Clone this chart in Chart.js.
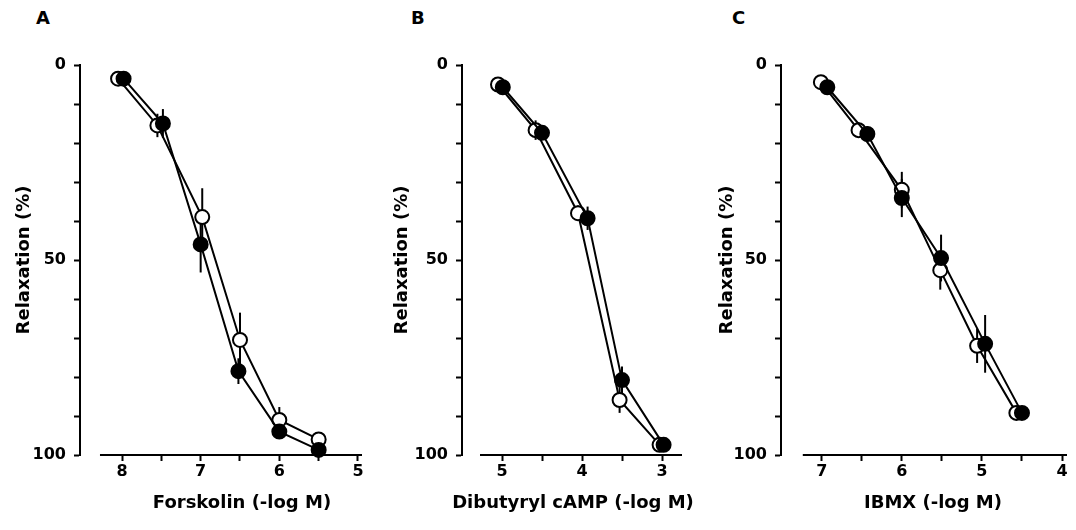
<!DOCTYPE html>
<html>
<head>
<meta charset="utf-8">
<script src="https://cdn.jsdelivr.net/npm/chart.js@4.4.1/dist/chart.umd.min.js"></script>
<style>
  html, body { margin: 0; padding: 0; background: #fff; overflow: hidden; }
  body { width: 1076px; height: 530px; position: relative; }
  canvas { position: absolute; top: 0; }
  .panel-label { position: absolute; top: 9px; font: bold 18px "DejaVu Sans"; line-height: 1; color: #000; }
</style>
</head>
<body>
<div class="panel-label" style="left:36px">A</div>
<div class="panel-label" style="left:411px">B</div>
<div class="panel-label" style="left:732px">C</div>
<canvas id="chartA" width="380" height="530" style="left:0"></canvas>
<canvas id="chartB" width="356" height="530" style="left:360px"></canvas>
<canvas id="chartC" width="360" height="530" style="left:716px"></canvas>
<script>
// y axis (Relaxation %), labelled ticks
const relaxLabels = [0, 50, 100];

// A - Forskolin (-log M)
const forskolinLabels = [8, 7, 6, 5];
const forskolinOpenX = [8.05, 7.55, 6.98, 6.5, 6.0, 5.5];
const forskolinOpen = [3.5, 15.5, 39, 70.5, 91, 96];
const forskolinOpenSem = [0.5, 3, 7.4, 7, 3.3, 1];
const forskolinFilledX = [7.98, 7.48, 7.0, 6.52, 6.0, 5.5];
const forskolinFilled = [3.5, 15, 46, 78.5, 94, 98.7];
const forskolinFilledSem = [0.5, 3.7, 7.2, 3.3, 1.5, 1];

// B - Dibutyryl cAMP (-log M)
const dbcampLabels = [5, 4, 3];
const dbcampOpenX = [5.05, 4.58, 4.05, 3.53, 3.03];
const dbcampOpen = [5, 16.7, 38, 85.9, 97.4];
const dbcampOpenSem = [1, 2.5, 2, 3.3, 0.5];
const dbcampFilledX = [4.99, 4.5, 3.93, 3.5, 2.98];
const dbcampFilled = [5.7, 17.4, 39.3, 80.8, 97.4];
const dbcampFilledSem = [1, 1, 3, 3.5, 0.5];

// C - IBMX (-log M)
const ibmxLabels = [7, 6, 5, 4];
const ibmxOpenX = [7.01, 6.54, 6.0, 5.52, 5.06, 4.57];
const ibmxOpen = [4.4, 16.7, 32, 52.6, 72, 89.2];
const ibmxOpenSem = [0.5, 2, 4.6, 5, 4.4, 1];
const ibmxFilledX = [6.93, 6.43, 6.0, 5.51, 4.96, 4.5];
const ibmxFilled = [5.7, 17.7, 34.1, 49.5, 71.5, 89.2];
const ibmxFilledSem = [1, 2, 4.9, 6, 7.4, 1];

Chart.defaults.font.family = '"DejaVu Sans"';
Chart.defaults.color = '#000';

// vertical SEM bars, drawn under the circles
const errorBars = {
  id: 'errorBars',
  beforeDatasetsDraw(chart) {
    const ctx = chart.ctx;
    const xs = chart.scales.x, ys = chart.scales.y;
    ctx.save();
    ctx.strokeStyle = '#000';
    ctx.lineWidth = 2;
    chart.data.datasets.forEach(ds => {
      ds.data.forEach((p, i) => {
        const err = ds.sem[i];
        if (!err) return;
        const px = xs.getPixelForValue(p.x);
        ctx.beginPath();
        ctx.moveTo(px, ys.getPixelForValue(p.y - err));
        ctx.lineTo(px, ys.getPixelForValue(p.y + err));
        ctx.stroke();
      });
    });
    ctx.restore();
  }
};

// x axis line (detached from the y axis) and its caption
const xAxisLine = {
  id: 'xAxisLine',
  afterDraw(chart, args, opts) {
    const ctx = chart.ctx;
    const xs = chart.scales.x;
    const yb = chart.chartArea.bottom;
    ctx.save();
    ctx.strokeStyle = '#000';
    ctx.lineWidth = 2;
    ctx.beginPath();
    ctx.moveTo(xs.getPixelForValue(opts.from), yb);
    ctx.lineTo(xs.getPixelForValue(opts.to), yb);
    ctx.stroke();
    // caption is wider than the plot, so draw it here instead of scale title
    ctx.fillStyle = '#000';
    ctx.font = 'bold 18px "DejaVu Sans"';
    ctx.textAlign = 'center';
    ctx.textBaseline = 'middle';
    ctx.fillText(opts.caption, opts.captionX, 503);
    ctx.restore();
  }
};

function toPoints(xs, ys) {
  return xs.map((x, i) => ({ x: x, y: ys[i] }));
}

function makePanel(id, p) {
  new Chart(document.getElementById(id), {
    type: 'scatter',
    data: {
      datasets: [
        {
          data: toPoints(p.filledX, p.filled),
          sem: p.filledSem,
          showLine: true,
          borderColor: '#000',
          borderWidth: 2,
          pointBackgroundColor: '#000',
          pointBorderColor: '#000',
          pointBorderWidth: 2,
          pointRadius: 7,
          clip: false,
          order: 0
        },
        {
          data: toPoints(p.openX, p.open),
          sem: p.openSem,
          showLine: true,
          borderColor: '#000',
          borderWidth: 2,
          pointBackgroundColor: '#fff',
          pointBorderColor: '#000',
          pointBorderWidth: 2,
          pointRadius: 7,
          clip: false,
          order: 1
        }
      ]
    },
    options: {
      responsive: false,
      animation: false,
      layout: { padding: { top: 65, right: p.padRight, bottom: 0, left: 0 } },
      plugins: {
        legend: { display: false },
        tooltip: { enabled: false },
        xAxisLine: { from: p.axisFrom, to: p.axisTo, caption: p.xTitle, captionX: p.captionX }
      },
      scales: {
        x: {
          type: 'linear',
          reverse: true,
          min: p.xMin,
          max: p.xMax,
          afterBuildTicks: s => {
            s.ticks = s.ticks.filter(t =>
              Math.abs(t.value * 2 - Math.round(t.value * 2)) < 1e-6 &&
              t.value <= p.axisFrom + 1e-6 && t.value >= p.axisTo - 1e-6);
          },
          afterFit: s => { s.height = 75; },
          ticks: {
            stepSize: 0.5,
            includeBounds: false,
            autoSkip: false,
            maxRotation: 0,
            padding: 1,
            color: '#000',
            font: { size: 16, weight: 'bold' },
            callback: v => p.xLabels.includes(v) ? String(v) : ''
          },
          grid: {
            drawOnChartArea: false,
            drawTicks: true,
            tickLength: 6,
            tickWidth: 2,
            tickColor: '#000'
          },
          border: { display: false }
        },
        y: {
          type: 'linear',
          reverse: true,
          min: 0,
          max: 100,
          afterFit: s => { s.width = p.yWidth; },
          ticks: {
            stepSize: 10,
            autoSkip: false,
            padding: 8,
            color: '#000',
            font: { size: 16, weight: 'bold' },
            callback: v => relaxLabels.includes(v) ? String(v) : ''
          },
          grid: {
            drawOnChartArea: false,
            drawTicks: true,
            tickLength: 6,
            tickWidth: 2,
            tickColor: '#000'
          },
          border: { display: true, color: '#000', width: 2 },
          title: {
            display: true,
            text: 'Relaxation (%)',
            color: '#000',
            font: { size: 18, weight: 'bold' },
            padding: { top: p.yTitlePad, bottom: 0 }
          }
        }
      }
    },
    plugins: [errorBars, xAxisLine]
  });
}

makePanel('chartA', {
  xTitle: 'Forskolin (-log M)', xLabels: forskolinLabels, captionX: 242,
  openX: forskolinOpenX, open: forskolinOpen, openSem: forskolinOpenSem,
  filledX: forskolinFilledX, filled: forskolinFilled, filledSem: forskolinFilledSem,
  xMin: 4.949, xMax: 8.534, axisFrom: 8.28, axisTo: 4.949,
  yWidth: 80, yTitlePad: 14, padRight: 18
});

makePanel('chartB', {
  xTitle: 'Dibutyryl cAMP (-log M)', xLabels: dbcampLabels, captionX: 213,
  openX: dbcampOpenX, open: dbcampOpen, openSem: dbcampOpenSem,
  filledX: dbcampFilledX, filled: dbcampFilled, filledSem: dbcampFilledSem,
  xMin: 2.75, xMax: 5.5, axisFrom: 5.275, axisTo: 2.75,
  yWidth: 102, yTitlePad: 32, padRight: 34
});

makePanel('chartC', {
  xTitle: 'IBMX (-log M)', xLabels: ibmxLabels, captionX: 217,
  openX: ibmxOpenX, open: ibmxOpen, openSem: ibmxOpenSem,
  filledX: ibmxFilledX, filled: ibmxFilled, filledSem: ibmxFilledSem,
  xMin: 3.938, xMax: 7.508, axisFrom: 7.236, axisTo: 3.938,
  yWidth: 65, yTitlePad: 1, padRight: 7
});
</script>
</body>
</html>
